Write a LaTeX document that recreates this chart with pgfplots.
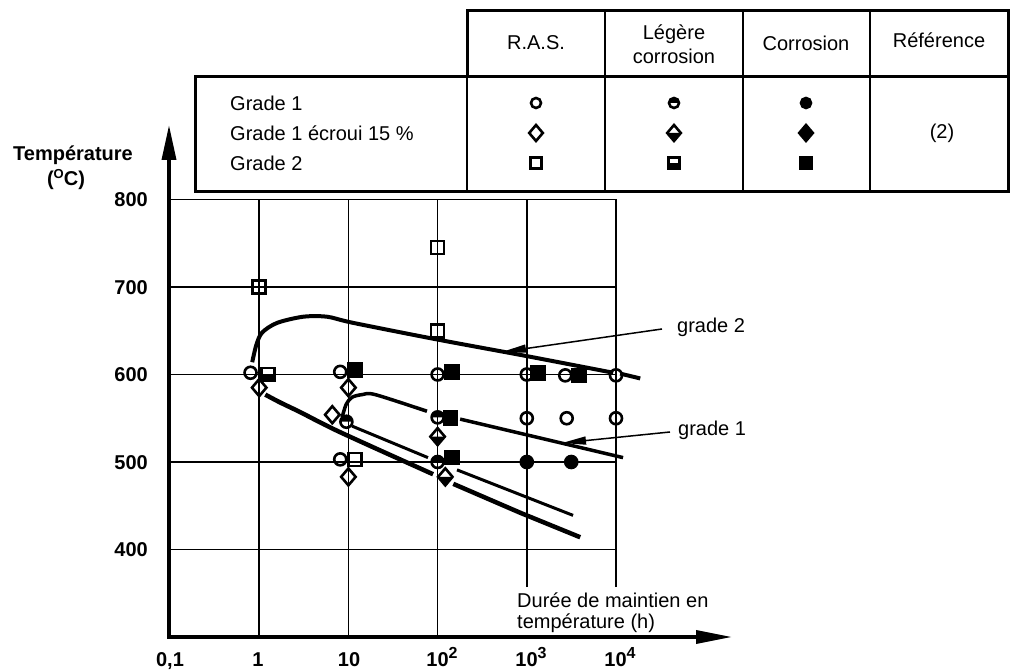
\documentclass[border=0pt]{standalone}
\usepackage{pgfplots}
\pgfplotsset{compat=1.18}
\usepackage{fontspec}
\setmainfont{Liberation Sans}
\usetikzlibrary{arrows.meta}

\pgfdeclareplotmark{hcirc}{%
  \pgfpathmoveto{\pgfqpoint{\pgfplotmarksize}{0pt}}%
  \pgfpatharc{0}{180}{\pgfplotmarksize}%
  \pgfpathclose\pgfusepathqfill
  \pgfpathcircle{\pgfpointorigin}{\pgfplotmarksize}\pgfusepathqstroke}
\pgfdeclareplotmark{odiam}{%
  \pgfpathmoveto{\pgfqpoint{0pt}{\pgfplotmarksize}}%
  \pgfpathlineto{\pgfqpoint{.85\pgfplotmarksize}{0pt}}%
  \pgfpathlineto{\pgfqpoint{0pt}{-\pgfplotmarksize}}%
  \pgfpathlineto{\pgfqpoint{-.85\pgfplotmarksize}{0pt}}%
  \pgfpathclose\pgfusepathqstroke}
\pgfdeclareplotmark{fdiam}{%
  \pgfpathmoveto{\pgfqpoint{0pt}{\pgfplotmarksize}}%
  \pgfpathlineto{\pgfqpoint{.85\pgfplotmarksize}{0pt}}%
  \pgfpathlineto{\pgfqpoint{0pt}{-\pgfplotmarksize}}%
  \pgfpathlineto{\pgfqpoint{-.85\pgfplotmarksize}{0pt}}%
  \pgfpathclose\pgfusepathqfillstroke}
\pgfdeclareplotmark{hdiam}{%
  \pgfpathmoveto{\pgfqpoint{-.85\pgfplotmarksize}{0pt}}%
  \pgfpathlineto{\pgfqpoint{0pt}{-\pgfplotmarksize}}%
  \pgfpathlineto{\pgfqpoint{.85\pgfplotmarksize}{0pt}}%
  \pgfpathclose\pgfusepathqfill
  \pgfpathmoveto{\pgfqpoint{0pt}{\pgfplotmarksize}}%
  \pgfpathlineto{\pgfqpoint{.85\pgfplotmarksize}{0pt}}%
  \pgfpathlineto{\pgfqpoint{0pt}{-\pgfplotmarksize}}%
  \pgfpathlineto{\pgfqpoint{-.85\pgfplotmarksize}{0pt}}%
  \pgfpathclose\pgfusepathqstroke}
\pgfdeclareplotmark{hsq}{%
  \pgfpathrectangle{\pgfqpoint{-\pgfplotmarksize}{-\pgfplotmarksize}}{\pgfqpoint{2\pgfplotmarksize}{\pgfplotmarksize}}\pgfusepathqfill
  \pgfpathrectangle{\pgfqpoint{-\pgfplotmarksize}{-\pgfplotmarksize}}{\pgfqpoint{2\pgfplotmarksize}{2\pgfplotmarksize}}\pgfusepathqstroke}

\pgfplotsset{
  mk/.style={only marks, mark options={solid, line width=2.6pt, fill=black}},
}

\begin{document}
\begin{tikzpicture}[font=\fontsize{20}{24}\selectfont]
% ---------- pixel frame: table, labels, axes arrows ----------
\begin{scope}[shift={(0pt,671pt)}, x=1pt, y=-1pt]
  % table
  \draw[line width=2pt] (605,11) -- (605,192) (743,11) -- (743,192) (870,11) -- (870,192) (467,77) -- (467,192);
  \draw[line width=3pt] (467,11) rectangle (1008,77);
  \draw[line width=3pt] (195,77) rectangle (1008,192);
  \node[anchor=west, inner sep=0pt] at (230,103) {Grade 1};
  \node[anchor=west, inner sep=0pt] at (230,133) {Grade 1 écroui 15 \%};
  \node[anchor=west, inner sep=0pt] at (230,163) {Grade 2};
  \node[inner sep=0pt] at (536,43) {R.A.S.};
  \node[inner sep=0pt, align=center] at (674,44) {Légère\\corrosion};
  \node[inner sep=0pt] at (806,43) {Corrosion};
  \node[inner sep=0pt] at (939,40) {Référence};
  \node[inner sep=0pt] at (942,133) {(2)};
  % axis titles
  \node[inner sep=0pt, font=\fontsize{20}{24}\selectfont\bfseries] at (73,155) {Température};
  \node[inner sep=0pt, font=\fontsize{20}{24}\selectfont\bfseries] at (66,180) {(\raisebox{7pt}{\fontsize{13}{13}\selectfont O}C)};
  \node[anchor=west, inner sep=0pt] at (517,600) {Durée de maintien en};
  \node[anchor=west, inner sep=0pt] at (517,623) {température (h)};
  % tick labels
  \begin{scope}[font=\fontsize{20}{24}\selectfont\bfseries]
    \node[anchor=east, inner sep=0pt] at (148,200) {800};
    \node[anchor=east, inner sep=0pt] at (148,287.5) {700};
    \node[anchor=east, inner sep=0pt] at (148,375) {600};
    \node[anchor=east, inner sep=0pt] at (148,462.5) {500};
    \node[anchor=east, inner sep=0pt] at (148,550) {400};
    \node[anchor=base, inner sep=0pt] at (170,667) {0,1};
    \node[anchor=base, inner sep=0pt] at (258,667) {1};
    \node[anchor=base, inner sep=0pt] at (349,667) {10};
    \node[anchor=base, inner sep=0pt] at (442,667) {10\raisebox{8pt}{\fontsize{16}{16}\selectfont\bfseries 2}};
    \node[anchor=base, inner sep=0pt] at (531,667) {10\raisebox{8pt}{\fontsize{16}{16}\selectfont\bfseries 3}};
    \node[anchor=base, inner sep=0pt] at (620,667) {10\raisebox{8pt}{\fontsize{16}{16}\selectfont\bfseries 4}};
  \end{scope}
  % curve labels and pointers
  \node[anchor=west, inner sep=0pt] at (677,327) {grade 2};
  \node[anchor=west, inner sep=0pt] at (678,430) {grade 1};
  \draw[line width=1.5pt, -{Triangle[length=24pt,width=8pt]}] (662,329) -- (502,352);
  \draw[line width=1.5pt, -{Triangle[length=24pt,width=8pt]}] (670,432) -- (562,443);
  % axes
  \draw[line width=3.5pt, -{Triangle[length=35pt,width=14pt]}] (169,639) -- (169,125);
  \draw[line width=3.5pt, -{Triangle[length=36pt,width=13pt]}] (167,637) -- (732,637);
\end{scope}

% ---------- data axis (log time) ----------
\begin{axis}[at={(170pt,34pt)}, anchor=south west, scale only axis,
  width=446pt, height=437.5pt, xmode=log, xmin=0.1, xmax=10000,
  ymin=300, ymax=800, hide axis, clip=false]
  % grid
  \draw[line width=1.5pt] (axis cs:0.1,400) -- (axis cs:10000,400);
  \draw[line width=1.5pt] (axis cs:0.1,500) -- (axis cs:10000,500);
  \draw[line width=1.5pt] (axis cs:0.1,600) -- (axis cs:10000,600);
  \draw[line width=1.5pt] (axis cs:0.1,700) -- (axis cs:10000,700);
  \draw[line width=1.8pt] (axis cs:0.1,800) -- (axis cs:10000,800);
  \draw[line width=1.5pt] (axis cs:1,300) -- (axis cs:1,800);
  \draw[line width=1.5pt] (axis cs:10,300) -- (axis cs:10,800);
  \draw[line width=1.5pt] (axis cs:100,300) -- (axis cs:100,800);
  \draw[line width=1.5pt] (axis cs:1000,357) -- (axis cs:1000,800);
  \draw[line width=1.5pt] (axis cs:10000,357) -- (axis cs:10000,800);
  % grade 2 curve
  \addplot[smooth, line width=4pt] coordinates {(0.835,614) (0.93,634) (1.08,648) (1.59,659) (3.11,666) (5.78,666) (11.3,659) (99,640) (1000,621) (9300,602)};
  \addplot[line width=4pt] coordinates {(11140,601) (18700,595.5)};
  \addplot[smooth, line width=4.5pt] coordinates {(1.17,577) (1.72,568) (2.88,557) (8.1,534) (89,486)};
  \addplot[line width=4.5pt] coordinates {(150,475) (843,442) (3970,414)};
  % grade 1 curve
  \addplot[smooth, line width=3.5pt] coordinates {(8.5,551) (9.45,566) (11,574) (14.3,577) (20,577) (76,558)};
  \addplot[line width=3.5pt] coordinates {(179,549) (12000,505)};
  \addplot[line width=3pt] coordinates {(11,541) (78,505)};
  \addplot[line width=3pt] coordinates {(165,491) (3300,439)};
  % grade 1: R.A.S.
  \addplot[mk, mark=o, mark size=6pt] coordinates {(0.8,602) (8.1,603) (8.1,503) (100,600) (1000,600) (2700,599) (10000,599) (1000,550) (2800,550) (10000,550)};
  % grade 1: legere corrosion
  \addplot[mk, mark=hcirc, mark size=6pt] coordinates {(9.5,546) (100,551) (100,500)};
  % grade 1: corrosion
  \addplot[mk, mark=*, mark size=6pt] coordinates {(1000,500) (3150,500)};
  % grade 1 ecroui: R.A.S.
  \addplot[mk, mark=odiam, mark size=8.5pt] coordinates {(1,585) (10,585) (6.6,554) (10,483)};
  % grade 1 ecroui: legere corrosion
  \addplot[mk, mark=hdiam, mark size=8.5pt] coordinates {(100,529) (122,483)};
  % grade 2: R.A.S.
  \addplot[mk, mark=square, mark size=6.5pt] coordinates {(1,700) (100,745) (100,650) (11.9,503)};
  % grade 2: legere corrosion
  \addplot[mk, mark=hsq, mark size=6.5pt] coordinates {(1.25,600)};
  % grade 2: corrosion
  \addplot[mk, mark=square*, mark size=6.5pt] coordinates {(11.9,605) (146,603) (139,550) (146,505) (1340,602) (3860,599)};
\end{axis}

% ---------- legend symbols (pixel axis) ----------
\begin{axis}[at={(0pt,0pt)}, anchor=south west, scale only axis,
  width=1010pt, height=671pt, xmin=0, xmax=1010, ymin=0, ymax=671,
  hide axis, clip=false]
  \addplot[mk, mark=o, mark size=5pt] coordinates {(536,568)};
  \addplot[mk, mark=odiam, mark size=8pt] coordinates {(536,538)};
  \addplot[mk, mark=square, mark size=5.5pt] coordinates {(536,508)};
  \addplot[mk, mark=hcirc, mark size=5pt] coordinates {(674,568)};
  \addplot[mk, mark=hdiam, mark size=8pt] coordinates {(674,538)};
  \addplot[mk, mark=hsq, mark size=5.5pt] coordinates {(674,508)};
  \addplot[mk, mark=*, mark size=5pt] coordinates {(806,568)};
  \addplot[mk, mark=fdiam, mark size=8pt] coordinates {(806,538)};
  \addplot[mk, mark=square*, mark size=5.5pt] coordinates {(806,508)};
\end{axis}

\pgfresetboundingbox
\path[use as bounding box] (0,0) rectangle (1010pt,671pt);
\end{tikzpicture}
\end{document}
